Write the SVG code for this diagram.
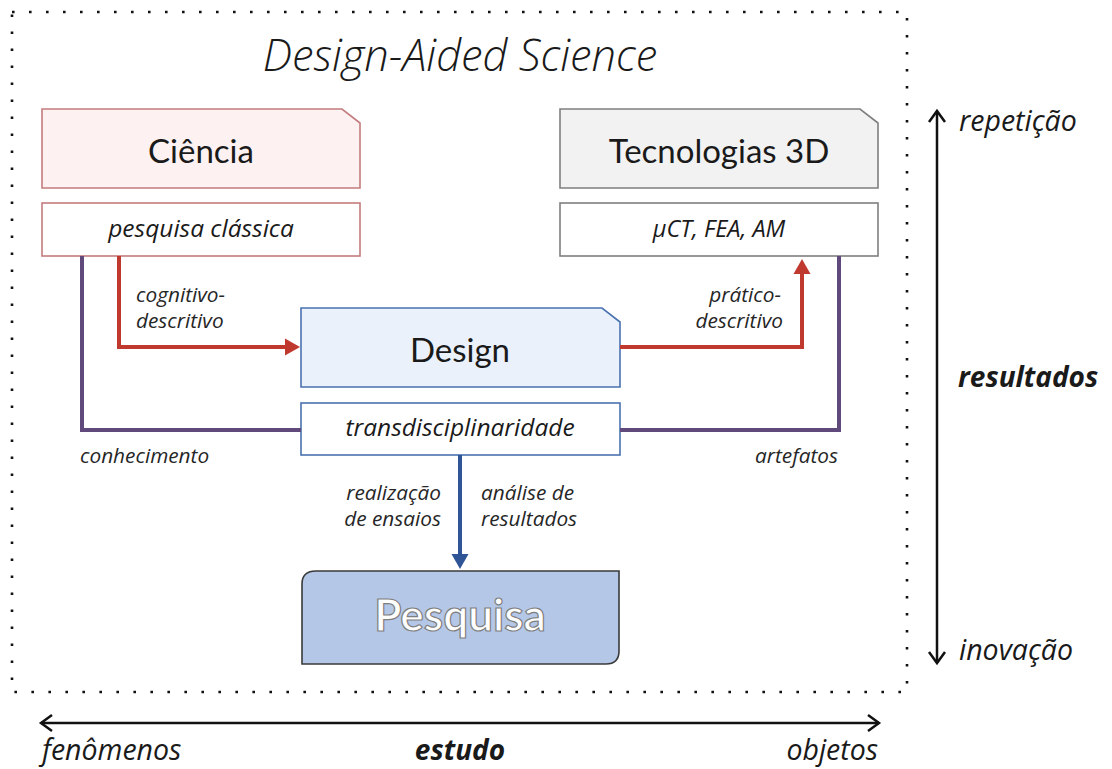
<svg xmlns="http://www.w3.org/2000/svg" width="1112" height="769" viewBox="0 0 1112 769">
  <defs>
    <style>
      text { font-family: Lato, "Open Sans", "Liberation Sans", sans-serif; fill: #1a1a1a; }
      .it { font-family: "Open Sans", Lato, "Liberation Sans", sans-serif; font-style: italic; }
      .title { font-size: 43.5px; font-weight: 300; }
      .head { font-size: 33px; }
      .sub { font-size: 24.5px; }
      .lbl { font-size: 20.8px; fill: #262626; }
      .axis { font-size: 28.5px; }
      .axisb { font-size: 28px; font-weight: 700; }
      .ciencia { fill: #fdf1f1; stroke: #c47c7e; stroke-width: 1.6; }
      .ciencia-sub { fill: #ffffff; stroke: #c47c7e; stroke-width: 1.6; }
      .tec { fill: #f2f2f2; stroke: #7f7f7f; stroke-width: 1.6; }
      .tec-sub { fill: #ffffff; stroke: #7f7f7f; stroke-width: 1.6; }
      .des { fill: #eaf1fb; stroke: #4a72b0; stroke-width: 1.6; }
      .des-sub { fill: #ffffff; stroke: #4a72b0; stroke-width: 1.6; }
      .pesq { fill: #b4c7e7; stroke: #3a3a3a; stroke-width: 1.6; }
      .red { fill: none; stroke: #c0392f; stroke-width: 4; }
      .purple { fill: none; stroke: #604a7b; stroke-width: 4; }
      .blue { fill: none; stroke: #2f5597; stroke-width: 4; }
      .axisline { fill: none; stroke: #111111; stroke-width: 2.5; }
    </style>
    <marker id="arrRed" markerUnits="userSpaceOnUse" markerWidth="16" markerHeight="18" refX="2" refY="9" orient="auto">
      <path d="M0,0.5 L15,9 L0,17.5 z" fill="#c0392f"/>
    </marker>
    <marker id="arrBlue" markerUnits="userSpaceOnUse" markerWidth="16" markerHeight="18" refX="2" refY="9" orient="auto">
      <path d="M0,0.5 L15,9 L0,17.5 z" fill="#2f5597"/>
    </marker>
    <marker id="chev" markerUnits="userSpaceOnUse" markerWidth="16" markerHeight="20" refX="13" refY="10" orient="auto">
      <path d="M2,2 L13,10 L2,18" fill="none" stroke="#111111" stroke-width="2.5"/>
    </marker>
  </defs>

  <!-- dotted frame -->
  <rect x="12" y="12" width="895" height="680" fill="none" stroke="#111111" stroke-width="2.6" stroke-dasharray="2.6 14.4"/>

  <text class="it title" x="460" y="71" text-anchor="middle">Design-Aided Science</text>

  <!-- nodes -->
  <g id="ciencia">
    <path class="ciencia" d="M42,109 H342 L360,123 V188 H42 Z"/>
    <text class="head" x="201" y="163" text-anchor="middle">Ciência</text>
  </g>
  <g id="pesquisa-classica">
    <rect class="ciencia-sub" x="42" y="203" width="318" height="53"/>
    <text class="it sub" x="201" y="237" text-anchor="middle">pesquisa clássica</text>
  </g>
  <g id="tecnologias">
    <path class="tec" d="M560,109 H860 L878,123 V188 H560 Z"/>
    <text class="head" x="719" y="163" text-anchor="middle">Tecnologias 3D</text>
  </g>
  <g id="ferramentas">
    <rect class="tec-sub" x="560" y="203" width="318" height="53"/>
    <text class="it sub" x="719" y="237" text-anchor="middle" style="font-size:23.5px">µCT, FEA, AM</text>
  </g>
  <g id="design">
    <path class="des" d="M301,308 H602 L620,322 V387 H301 Z"/>
    <text class="head" x="460" y="362" text-anchor="middle">Design</text>
  </g>
  <g id="transdisciplinaridade">
    <rect class="des-sub" x="301" y="403" width="319" height="52"/>
    <text class="it sub" x="460" y="436" text-anchor="middle">transdisciplinaridade</text>
  </g>
  <g id="pesquisa">
    <path class="pesq" d="M316,571 H619 V651 Q619,664 606,664 H302 V584 Q302,571 316,571 Z"/>
    <text x="460" y="631" text-anchor="middle" font-size="44" font-weight="700" stroke="#7f7f7f" stroke-width="1.2" style="fill:#ffffff">Pesquisa</text>
  </g>

  <!-- connectors -->
  <g id="connectors">
    <path class="purple" d="M82,256 V430 H301"/>
    <path class="purple" d="M620,430 H839 V256"/>
    <path class="red" d="M119,256 V347 H287" marker-end="url(#arrRed)"/>
    <path class="red" d="M620,347 H802 V272" marker-end="url(#arrRed)"/>
    <path class="blue" d="M460,455 V556" marker-end="url(#arrBlue)"/>
  </g>

  <!-- connector labels -->
  <g id="labels">
    <text class="it lbl" x="136" y="302">cognitivo-</text>
    <text class="it lbl" x="136" y="328">descritivo</text>
    <text class="it lbl" x="781" y="302" text-anchor="end">prático-</text>
    <text class="it lbl" x="783" y="328" text-anchor="end">descritivo</text>
    <text class="it lbl" x="80" y="463">conhecimento</text>
    <text class="it lbl" x="838" y="463" text-anchor="end">artefatos</text>
    <text class="it lbl" x="441" y="500" text-anchor="end">realização</text>
    <text class="it lbl" x="441" y="526" text-anchor="end">de ensaios</text>
    <text class="it lbl" x="481" y="500">análise de</text>
    <text class="it lbl" x="481" y="526">resultados</text>
  </g>

  <!-- axes -->
  <g id="axes">
    <path class="axisline" d="M937,388 V111" marker-end="url(#chev)"/>
    <path class="axisline" d="M937,388 V663" marker-end="url(#chev)"/>
    <text class="it axis" x="959" y="131">repetição</text>
    <text class="it axisb" x="958" y="387">resultados</text>
    <text class="it axis" x="959" y="660">inovação</text>
    <path class="axisline" d="M460,723 H41" marker-end="url(#chev)"/>
    <path class="axisline" d="M460,723 H879" marker-end="url(#chev)"/>
    <text class="it axis" x="42" y="760">fenômenos</text>
    <text class="it axisb" x="460" y="760" text-anchor="middle">estudo</text>
    <text class="it axis" x="878" y="760" text-anchor="end">objetos</text>
  </g>
</svg>
